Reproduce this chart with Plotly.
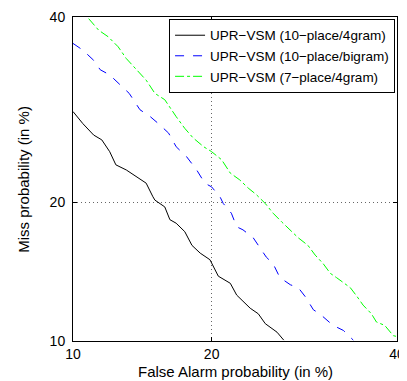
import plotly.graph_objects as go
from statistics import NormalDist

nd = NormalDist()

def probit(p):
    return nd.inv_cdf(p / 100.0)

# False alarm (%) / miss (%) pairs
fa_10p_4gram = [10.0, 10.56, 11.2, 11.7, 12.2, 12.6, 13.3, 14.0, 14.7, 15.2, 15.35, 16.1, 16.5, 17.0,
                17.7, 18.3, 19.0, 19.85, 20.1, 20.6, 21.7, 22.3, 22.9, 23.6, 24.4, 25.1, 26.3, 27.0]
miss_10p_4gram = [29.0, 27.7, 26.5, 26.0, 24.8, 23.5, 23.0, 22.4, 21.75, 20.5, 20.2, 19.6, 18.5, 18.2,
                  17.5, 16.4, 15.8, 15.3, 14.9, 14.1, 13.6, 12.8, 12.4, 11.95, 11.6, 11.0, 10.5, 10.05]

fa_10p_bigram = [10.0, 10.56, 11.2, 11.6, 12.2, 12.9, 13.5, 14.25, 15.0, 15.7, 16.4, 17.0, 17.85, 18.7,
                 19.4, 20.0, 20.75, 21.05, 21.8, 22.3, 22.9, 23.9, 24.7, 25.2, 25.9, 26.6, 27.7, 28.55,
                 29.3, 30.2, 30.9, 31.7, 32.4, 33.6, 34.75]
miss_10p_bigram = [36.8, 36.0, 34.8, 33.7, 33.1, 32.0, 31.0, 29.2, 28.45, 27.6, 26.7, 25.3, 24.3, 23.0,
                   21.75, 21.4, 20.5, 19.9, 19.05, 17.9, 17.65, 17.0, 16.05, 15.5, 15.0, 14.0, 13.5, 13.3,
                   12.7, 11.85, 11.6, 11.2, 10.9, 10.6, 10.05]

fa_7p_4gram = [10.9, 11.5, 12.1, 12.75, 13.3, 14.0, 14.7, 15.35, 16.1, 17.0, 17.7, 18.4, 19.3, 20.0,
               20.9, 21.7, 22.6, 23.4, 24.2, 25.1, 25.9, 26.8, 27.7, 28.55, 29.6, 30.4, 31.3, 32.1,
               32.8, 34.4, 35.2, 35.9, 36.9, 37.5, 38.5, 39.55, 40.0]
miss_7p_4gram = [39.8, 38.4, 37.6, 36.4, 35.0, 33.7, 32.5, 31.0, 30.3, 28.45, 27.2, 26.2, 25.3, 24.8,
                 24.0, 22.7, 22.05, 21.3, 20.7, 19.9, 19.05, 18.3, 17.65, 17.0, 16.4, 15.65, 15.0, 14.3,
                 14.0, 13.3, 12.7, 12.15, 11.6, 11.1, 10.9, 10.3, 10.25]

tick_values = [10, 20, 40]
tick_labels = ["10", "20", "40"]

series = [
    ("UPR\u2212VSM (10\u2212place/4gram)", fa_10p_4gram, miss_10p_4gram, "#000000", "solid"),
    ("UPR\u2212VSM (10\u2212place/bigram)", fa_10p_bigram, miss_10p_bigram, "#0000ff", "dash"),
    ("UPR\u2212VSM (7\u2212place/4gram)", fa_7p_4gram, miss_7p_4gram, "#00ff00", "dashdot"),
]

FONT = "Liberation Sans, Arial, sans-serif"

fig = go.Figure()
for name, fa, miss, color, dash in series:
    fig.add_trace(go.Scatter(
        x=[probit(v) for v in fa], y=[probit(v) for v in miss],
        mode="lines", name=name,
        line=dict(color=color, width=1, dash=dash),
    ))

tv = [probit(v) for v in tick_values]
rng = [probit(10), probit(40)]

axis_common = dict(
    range=rng, tickmode="array", tickvals=tv, ticktext=tick_labels,
    showline=True, linecolor="black", linewidth=1, mirror="ticks",
    ticks="inside", ticklen=4, tickcolor="black",
    showgrid=True, gridcolor="#666666", griddash="1px,3px", gridwidth=1,
    zeroline=False, automargin=False,
    tickfont=dict(family=FONT, size=14, color="black"),
)

fig.update_xaxes(**axis_common)
fig.update_yaxes(**axis_common, ticklabelstandoff=4)

fig.add_annotation(text="False Alarm probability (in %)", xref="paper", yref="paper",
                   x=0.5, y=-0.093, xanchor="center", yanchor="middle", showarrow=False,
                   font=dict(family=FONT, size=15, color="black"))
fig.add_annotation(text="Miss probability (in %)", xref="paper", yref="paper",
                   x=-0.155, y=0.5, xanchor="center", yanchor="middle", showarrow=False,
                   textangle=-90, font=dict(family=FONT, size=15, color="black"))

# page has an 8px body margin, so the figure is sized to fit inside the window
fig.update_layout(
    width=399, height=373,
    margin=dict(l=65, r=10, t=9, b=40, autoexpand=False),
    paper_bgcolor="white", plot_bgcolor="white",
    showlegend=True,
    legend=dict(
        x=0.994, y=0.994, xanchor="right", yanchor="top",
        bgcolor="white", bordercolor="black", borderwidth=1,
        font=dict(family=FONT, size=13.5, color="black"),
        tracegroupgap=0, itemwidth=30,
    ),
)

fig.write_html("out.html")
